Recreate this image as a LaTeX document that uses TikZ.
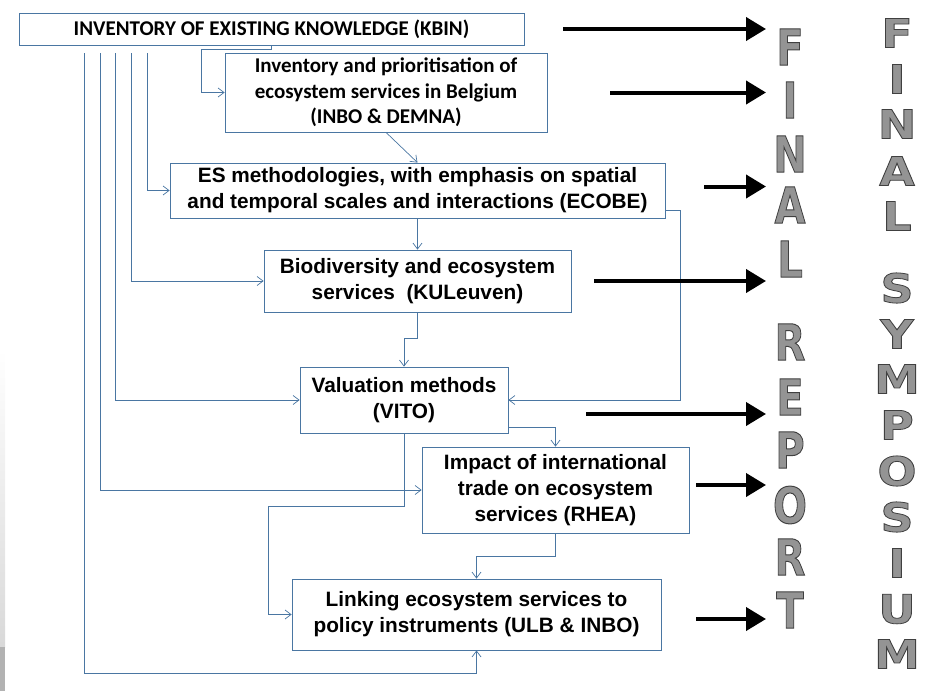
\documentclass[tikz,border=0pt]{standalone}
\usepackage{fontspec}
\setmainfont{Liberation Sans}
\newfontfamily\cbfont{Carlito}
\newfontfamily\letterfont{DejaVu Sans}[BoldFeatures={FakeBold=2}]
\usetikzlibrary{arrows.meta}
\definecolor{boxblue}{RGB}{74,118,162}
\newcommand{\hollow}[2]{\special{pdf:literal direct 0.25 0.25 0.25 RG}\scalebox{#1}[1]{#2}}

\begin{document}
\begin{tikzpicture}[x=1pt, y=-1pt,
    box/.style={draw=boxblue, line width=0.8pt, align=center, inner sep=0pt},
    cb/.style={font=\cbfont\bfseries\fontsize{21}{25.5}\selectfont},
    ar/.style={font=\bfseries\fontsize{20.8}{26}\selectfont},
    link/.style={draw=boxblue, line width=0.7pt, -{Straight Barb[length=6pt,width=9pt]}},
    fat/.style={line width=4pt, -{Triangle[length=20pt,width=23pt]}},
    rep/.style={inner sep=0pt, text=black!42, font=\letterfont\bfseries\fontsize{50}{50}\selectfont},
    symp/.style={inner sep=0pt, text=black!42, font=\letterfont\bfseries\fontsize{40}{40}\selectfont}]
    \useasboundingbox (0,0) rectangle (936,691);
    \shade[top color=white, bottom color=gray!30] (0,350) rectangle (5,647);
    \fill[gray!60] (0,647) rectangle (5,691);

    \node[box, cb, minimum width=505pt, minimum height=32pt] at (271.5,29) (B0) {INVENTORY OF EXISTING KNOWLEDGE (KBIN)};
    \node[box, cb, minimum width=322pt, minimum height=79pt] at (386,92.5) (B1) {Inventory and prioritisation of\\ecosystem services in Belgium\\(INBO \& DEMNA)};
    \node[box, ar, minimum width=495pt, minimum height=55pt] at (417.5,190.5) (B2) {ES methodologies, with emphasis on spatial\\and temporal scales and interactions (ECOBE)};
    \node[box, ar, minimum width=307pt, minimum height=62pt] at (417.5,281) (B3) {Biodiversity and ecosystem\\services\ \ (KULeuven)};
    \node[box, ar, minimum width=208pt, minimum height=66pt] at (404,400) (B4) {Valuation methods\\(VITO)};
    \node[box, ar, minimum width=267pt, minimum height=86pt] at (555.5,490) (B5) {Impact of international\\trade on ecosystem\\services (RHEA)};
    \node[box, ar, minimum width=369pt, minimum height=71pt] at (476.5,614.5) (B6) {Linking ecosystem services to\\policy instruments (ULB \& INBO)};

    \coordinate (K1) at (84,53);
    \coordinate (K2) at (100,53);
    \coordinate (K3) at (115,53);
    \coordinate (K4) at (131,53);
    \coordinate (K5) at (147,53);
    \coordinate (rep) at (766,0);

    % links between the work packages
    \draw[link] (B0.south) |- ++(-70,4) |- (B1.west);
    \draw[link] (B1.south) -- (B2.north);
    \draw[link] (K5) |- (B2.west);
    \draw[link] (K4) |- (B3.west);
    \draw[link] (K3) |- (B4.west);
    \draw[link] (K2) |- (B5.west);
    \draw[link] (K1) -- (84,673) -| (B6.south);
    \draw[link] (B2.south) -- (B3.north);
    \draw[link] (B3.south) -- ++(0,26) -| (B4.north);
    \draw[link] ([yshift=8pt]B2.south east) -- ++(15,0) |- (B4.east);
    \draw[link] ([yshift=6pt]B4.south east) -| (B5.north);
    \draw[link] (B4.south) |- (268,506) |- (B6.west);
    \draw[link] (B5.south) -- ++(0,23) -| (B6.north);

    % arrows to the report
    \draw[fat] ([xshift=39pt]B0.east) coordinate (s0) -- (s0 -| rep);
    \draw[fat] ([xshift=63pt]B1.east) coordinate (s1) -- (s1 -| rep);
    \draw[fat] ([xshift=39pt,yshift=4pt]B2.east) coordinate (s2) -- (s2 -| rep);
    \draw[fat] ([xshift=23pt]B3.east) coordinate (s3) -- (s3 -| rep);
    \draw[fat] ([xshift=78pt,yshift=-14pt]B4.east) coordinate (s4) -- (s4 -| rep);
    \draw[fat] ([xshift=7pt,yshift=5pt]B5.east) coordinate (s5) -- (s5 -| rep);
    \draw[fat] ([xshift=35pt,yshift=-4.5pt]B6.east) coordinate (s6) -- (s6 -| rep);

    \foreach \ch/\yy [count=\i] in {F/47,I/100,N/154,A/205,L/259,R/342,E/397,P/450,O/505,R/557,T/610}
        \node[rep] at (790,\yy) (R\i) {\hollow{0.8}{\ch}};
    \foreach \ch/\yy [count=\i] in {F/33,I/79,N/124,A/171,L/216,S/288,Y/334,M/379,P/425,O/471,S/517,I/563,U/609,M/654}
        \node[symp] at (897,\yy) (S\i) {\hollow{1.15}{\ch}};
\end{tikzpicture}
\end{document}
